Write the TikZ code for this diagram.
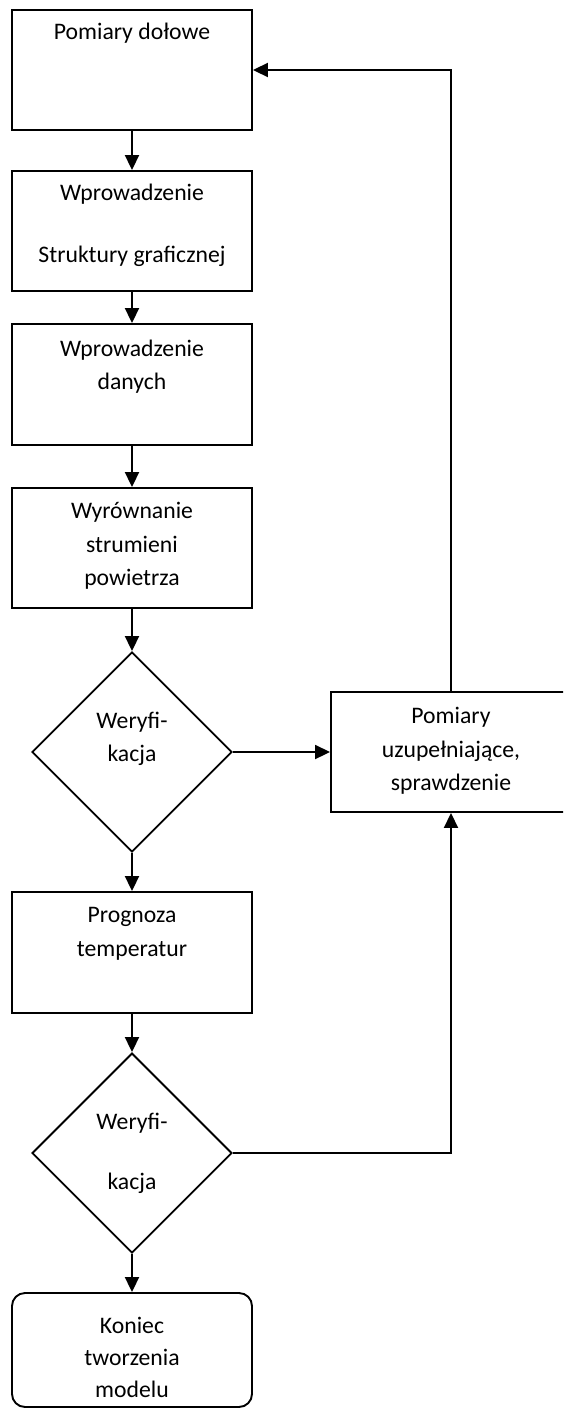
\documentclass[tikz,border=0pt]{standalone}
\usepackage{fontspec}
\setmainfont{Carlito}
\usetikzlibrary{shapes.geometric,arrows.meta}
\begin{document}
\begin{tikzpicture}[x=1pt,y=-1pt,
  box/.style={draw,line width=1.9pt,minimum width=240pt,inner sep=0pt},
  dec/.style={draw,diamond,aspect=1,minimum width=200pt,minimum height=200pt,inner sep=0pt,line width=1.9pt},
  txt/.style={align=center,font=\fontsize{23.7}{33.5}\selectfont,inner sep=0pt},
  arr/.style={line width=1.9pt,-{Triangle[length=15pt,width=14pt]}}]
\useasboundingbox (0,0) rectangle (563,1409);
\clip (0,0) rectangle (563,1409);
% shapes
\node[box,minimum height=120pt] (b1) at (132,70) {};
\node[box,minimum height=120pt] (b2) at (132,231) {};
\node[box,minimum height=121pt] (b3) at (132,384.5) {};
\node[box,minimum height=120pt] (b4) at (132,548) {};
\node[dec] (d1) at (132,752) {};
\node[box,minimum height=120pt] (b5) at (451,752) {};
\node[box,minimum height=121pt] (b6) at (132,952.5) {};
\node[dec] (d2) at (132,1153) {};
\node[box,minimum height=114pt,rounded corners=13pt] (b7) at (132,1350) {};
% texts
\node[txt] (t1) at (132,33) {Pomiary dołowe};
\node[txt] (t2) at (132,225) {Wprowadzenie\\[28.5pt]Struktury graficznej};
\node[txt] (t3) at (132,366.5) {Wprowadzenie\\danych};
\node[txt] (t4) at (132,546) {Wyrównanie\\strumieni\\powietrza};
\node[txt] (td1) at (132,739) {Weryfi-\\kacja};
\node[txt] (t5) at (451,751) {Pomiary\\uzupełniające,\\sprawdzenie};
\node[txt] (t6) at (132,934) {Prognoza\\temperatur};
\node[txt] (td2) at (132,1153) {Weryfi-\\[26.5pt]kacja};
\node[txt] (t7) at (132,1357) {Koniec\\[-1.5pt]tworzenia\\[-1.5pt]modelu};
% connectors
\draw[arr] (b1.south) -- (b2.north);
\draw[arr] (b2.south) -- (b3.north);
\draw[arr] (b3.south) -- (b4.north);
\draw[arr] (b4.south) -- (d1.north);
\draw[arr] (d1.south) -- (b6.north);
\draw[arr] (b6.south) -- (d2.north);
\draw[arr] (d2.south) -- (b7.north);
\draw[arr] (d1.east) -- (b5.west);
\draw[arr] (b5.north) |- (b1.east);
\draw[arr] (d2.east) -| (b5.south);
\end{tikzpicture}
\end{document}
